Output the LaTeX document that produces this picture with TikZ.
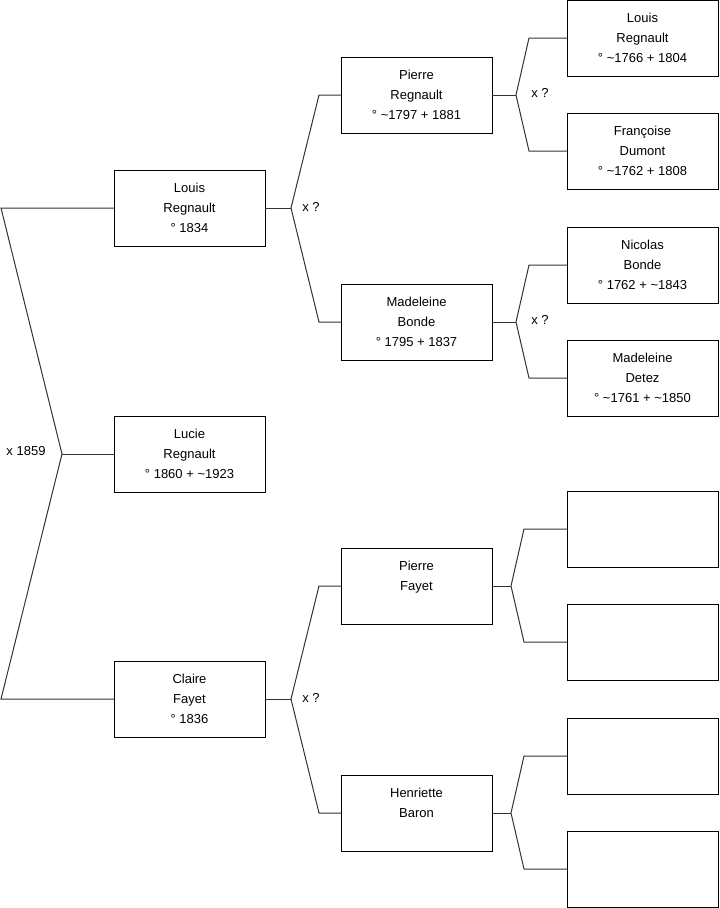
\documentclass[tikz,border=0pt]{standalone}
\usepackage{fontspec}
\setmainfont{Liberation Sans}
\begin{document}
\begin{tikzpicture}[x=0.75pt,y=-0.75pt, every node/.style={font=\fontsize{9.75}{15}\selectfont},
  person/.style={draw,line width=0.75pt,minimum width=113.25pt,minimum height=57pt,inner sep=0pt,outer sep=0pt,align=center},
  link/.style={line width=0.75pt,draw=black!80}]
\useasboundingbox (0,0) rectangle (719,908);
% generation 0 and parents
\node[person] (louis) at (189.5,208) {Louis\\Regnault\\° 1834};
\node[person] (lucie) at (189.5,454) {Lucie\\Regnault\\° 1860 + \textasciitilde1923};
\node[person] (claire) at (189.5,699) {Claire\\Fayet\\° 1836};
% grandparents
\node[person] (pierreR) at (416.5,95) {Pierre\\Regnault\\° \textasciitilde1797 + 1881};
\node[person] (madB) at (416.5,322) {Madeleine\\Bonde\\° 1795 + 1837};
\node[person] (pierreF) at (416.5,586) {Pierre\\Fayet\\\mbox{}};
\node[person] (henB) at (416.5,813) {Henriette\\Baron\\\mbox{}};
% great-grandparents
\node[person] (louisR) at (642.5,38) {Louis\\Regnault\\° \textasciitilde1766 + 1804};
\node[person] (franD) at (642.5,151) {Françoise\\Dumont\\° \textasciitilde1762 + 1808};
\node[person] (nicB) at (642.5,265) {Nicolas\\Bonde\\° 1762 + \textasciitilde1843};
\node[person] (madD) at (642.5,378) {Madeleine\\Detez\\° \textasciitilde1761 + \textasciitilde1850};
\node[person] (emptyA) at (642.5,529) {};
\node[person] (emptyB) at (642.5,642) {};
\node[person] (emptyC) at (642.5,756) {};
\node[person] (emptyD) at (642.5,869) {};
% marriages
\node (marL) at (26,451) {x 1859};
\node (marA) at (311,207) {x ?};
\node (marB) at (540,93) {x ?};
\node (marC) at (540,320) {x ?};
\node (marD) at (311,698) {x ?};
% forks
\coordinate (top0) at (1,208); \coordinate (fork0) at (62,454); \coordinate (bot0) at (1,699);
\draw[link] (louis.west) -- (top0) -- (fork0) -- (bot0) -- (claire.west);
\draw[link] (fork0) -- (lucie.west);
\coordinate (forkA) at (291,208); \coordinate (forkD) at (291,699);
\draw[link] (louis.east) -- (forkA); \draw[link] (pierreR.west) -- ++(-22,0) -- (forkA) -- (319,322) -- (madB.west);
\draw[link] (claire.east) -- (forkD); \draw[link] (pierreF.west) -- ++(-22,0) -- (forkD) -- (319,813) -- (henB.west);
\coordinate (forkB) at (516,95); \coordinate (forkC) at (516,322);
\draw[link] (pierreR.east) -- (forkB); \draw[link] (louisR.west) -- ++(-38,0) -- (forkB) -- (529,151) -- (franD.west);
\draw[link] (madB.east) -- (forkC); \draw[link] (nicB.west) -- ++(-38,0) -- (forkC) -- (529,378) -- (madD.west);
\coordinate (forkE) at (511,586); \coordinate (forkF) at (511,813);
\draw[link] (pierreF.east) -- (forkE); \draw[link] (emptyA.west) -- ++(-43,0) -- (forkE) -- (524,642) -- (emptyB.west);
\draw[link] (henB.east) -- (forkF); \draw[link] (emptyC.west) -- ++(-43,0) -- (forkF) -- (524,869) -- (emptyD.west);
\end{tikzpicture}
\end{document}
